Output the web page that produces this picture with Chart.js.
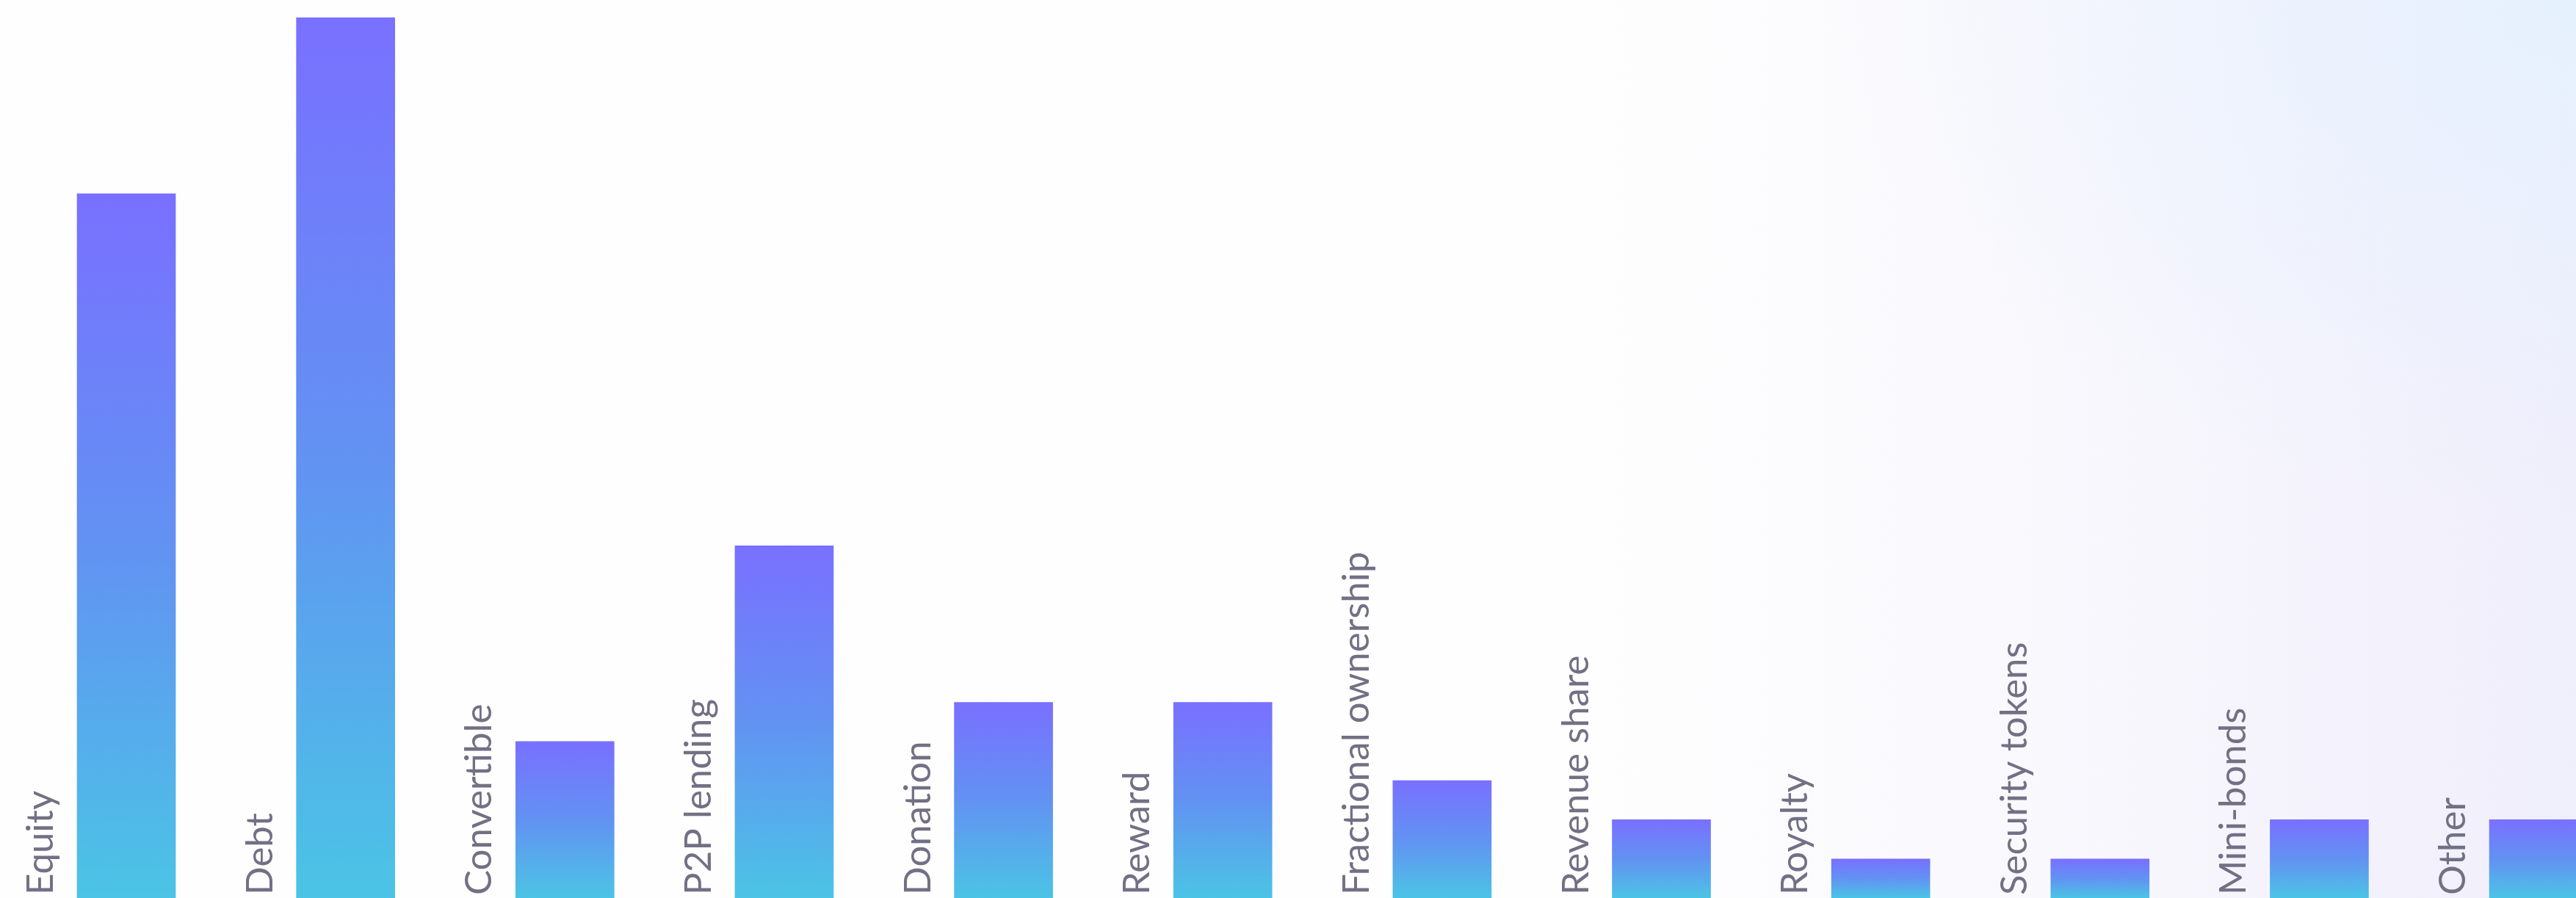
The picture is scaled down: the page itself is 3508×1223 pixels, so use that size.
<!DOCTYPE html>
<html>
<head>
<meta charset="utf-8">
<title>Funding types</title>
<script src="https://cdn.jsdelivr.net/npm/chart.js@4/dist/chart.umd.min.js"></script>
<style>
  html, body {
    margin: 0;
    padding: 0;
    width: 3508px;
    height: 1223px;
    overflow: hidden;
  }
  body {
    background:
      radial-gradient(ellipse 1000px 700px at 100% 0%, rgba(230,241,254,1) 0%, rgba(230,241,254,0.5) 45%, rgba(230,241,254,0) 100%),
      linear-gradient(90deg, #fefefe 0%, #fefefe 62%, #f8f7fd 82%, #efeefb 100%);
  }
  #frame {
    position: relative;
    width: 3508px;
    height: 1223px;
    overflow: hidden;
  }
  #chart {
    display: block;
  }
</style>
</head>
<body>
<div id="frame">
  <canvas id="chart" width="3620" height="1223"></canvas>
</div>
<script>
// Funding types and how often each one appears
const categories = [
  'Equity', 'Debt', 'Convertible', 'P2P lending', 'Donation', 'Reward',
  'Fractional ownership', 'Revenue share', 'Royalty', 'Security tokens',
  'Mini-bonds', 'Other'
];
const counts = [18, 22.5, 4, 9, 5, 5, 3, 2, 1, 1, 2, 2];

const BAR_TOP = '#7970ff';
const BAR_MID = '#6292f2';
const BAR_BOTTOM = '#4bc4e5';
const LABEL_COLOR = '#727084';
const LABEL_FONT = '400 51px Lato, "Open Sans", sans-serif';

// Each bar fades from violet at its top to cyan at its base
function barGradient(context) {
  const chart = context.chart;
  const yScale = chart.scales.y;
  if (!yScale || context.raw == null) return BAR_TOP;
  const top = yScale.getPixelForValue(context.raw);
  const base = yScale.getPixelForValue(0);
  if (!isFinite(top) || !isFinite(base) || base - top < 1) return BAR_TOP;
  const g = chart.ctx.createLinearGradient(0, top, 0, base);
  g.addColorStop(0, BAR_TOP);
  g.addColorStop(0.5, BAR_MID);
  g.addColorStop(1, BAR_BOTTOM);
  return g;
}

// Vertical category names standing just left of every bar
const sideLabels = {
  id: 'sideLabels',
  afterDatasetsDraw(chart) {
    const meta = chart.getDatasetMeta(0);
    const ctx = chart.ctx;
    const bottom = chart.chartArea.bottom;
    ctx.save();
    ctx.font = LABEL_FONT;
    ctx.fillStyle = LABEL_COLOR;
    ctx.textAlign = 'left';
    ctx.textBaseline = 'alphabetic';
    meta.data.forEach((bar, i) => {
      const left = bar.x - bar.width / 2;
      ctx.save();
      ctx.translate(left - 33, bottom - 4);
      ctx.rotate(-Math.PI / 2);
      ctx.fillText(categories[i], 0, 0);
      ctx.restore();
    });
    ctx.restore();
  }
};

new Chart(document.getElementById('chart'), {
  type: 'bar',
  data: {
    labels: categories,
    datasets: [{
      data: counts,
      backgroundColor: barGradient,
      borderWidth: 0,
      barThickness: 134
    }]
  },
  options: {
    responsive: false,
    animation: false,
    devicePixelRatio: 1,
    layout: {
      padding: { left: 22.7, right: 13.6, top: 0, bottom: 0 }
    },
    plugins: {
      legend: { display: false },
      tooltip: { enabled: false }
    },
    scales: {
      x: {
        display: false,
        offset: true,
        grid: { display: false }
      },
      y: {
        display: false,
        min: 0,
        max: 22.95,
        grid: { display: false }
      }
    }
  },
  plugins: [sideLabels]
});
</script>
</body>
</html>
